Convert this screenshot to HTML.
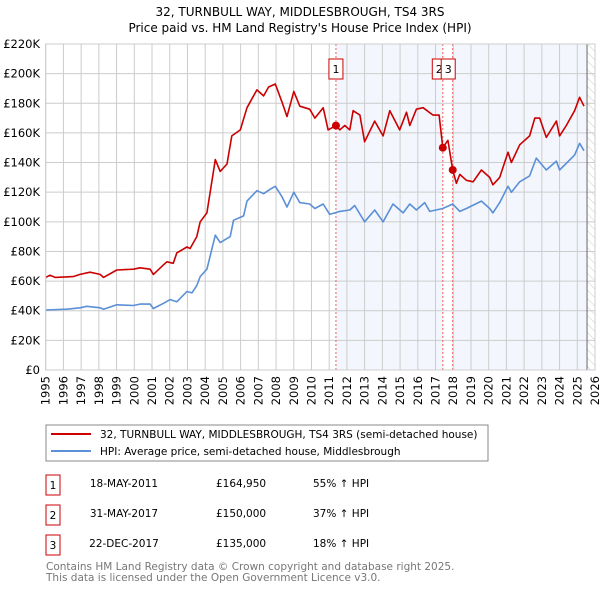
<!DOCTYPE html>
<html><head><meta charset="utf-8"><style>
body{margin:0;background:#fff;font-family:"DejaVu Sans","Liberation Sans",sans-serif;}
svg text{font-family:"DejaVu Sans","Liberation Sans",sans-serif;}
</style></head><body>
<svg id="chart" width="600" height="590" viewBox="0 0 600 590" xmlns="http://www.w3.org/2000/svg">
<text x="300" y="16" text-anchor="middle" font-size="12">32, TURNBULL WAY, MIDDLESBROUGH, TS4 3RS</text>
<text x="300" y="32" text-anchor="middle" font-size="12">Price paid vs. HM Land Registry's House Price Index (HPI)</text>
<g id="plot"></g>
<g>
<rect x="46" y="425" width="442" height="36" fill="#fff" stroke="#888"/>
<line x1="51" y1="434" x2="91" y2="434" stroke="#cc0000" stroke-width="2"/>
<text x="100" y="438" font-size="10.5">32, TURNBULL WAY, MIDDLESBROUGH, TS4 3RS (semi-detached house)</text>
<line x1="51" y1="451" x2="91" y2="451" stroke="#5b8fd6" stroke-width="2"/>
<text x="100" y="455" font-size="10.5">HPI: Average price, semi-detached house, Middlesbrough</text>
</g>
<g font-size="10.5">
<rect x="46" y="475" width="14" height="20" fill="#fff" stroke="#cc0000"/>
<text x="53" y="489" text-anchor="middle">1</text>
<text x="124" y="487" text-anchor="middle">18-MAY-2011</text>
<text x="216" y="487">£164,950</text>
<text x="313" y="487">55% ↑ HPI</text>
<rect x="46" y="505" width="14" height="20" fill="#fff" stroke="#cc0000"/>
<text x="53" y="519" text-anchor="middle">2</text>
<text x="124" y="517" text-anchor="middle">31-MAY-2017</text>
<text x="216" y="517">£150,000</text>
<text x="313" y="517">37% ↑ HPI</text>
<rect x="46" y="535" width="14" height="20" fill="#fff" stroke="#cc0000"/>
<text x="53" y="549" text-anchor="middle">3</text>
<text x="124" y="547" text-anchor="middle">22-DEC-2017</text>
<text x="216" y="547">£135,000</text>
<text x="313" y="547">18% ↑ HPI</text>
</g>
<text x="46" y="570" font-size="10.5" fill="#777">Contains HM Land Registry data © Crown copyright and database right 2025.</text>
<text x="46" y="581" font-size="10.5" fill="#777">This data is licensed under the Open Government Licence v3.0.</text>
</svg>
<script>
const yTicks=[0,20,40,60,80,100,120,140,160,180,200,220];
const yTickLabels=["£0","£20K","£40K","£60K","£80K","£100K","£120K","£140K","£160K","£180K","£200K","£220K"];
const xYears=[1995,1996,1997,1998,1999,2000,2001,2002,2003,2004,2005,2006,2007,2008,2009,2010,2011,2012,2013,2014,2015,2016,2017,2018,2019,2020,2021,2022,2023,2024,2025,2026];
const redDates=[1995,1995.24,1995.53,1996.56,1996.94,1997.5,1998.07,1998.26,1999.01,1999.95,2000.33,2000.89,2001.08,2001.65,2001.84,2002.2,2002.4,2002.97,2003.15,2003.53,2003.72,2004.1,2004.57,2004.85,2005.23,2005.5,2005.98,2006.36,2006.92,2007.3,2007.58,2007.96,2008.33,2008.62,2009,2009.34,2009.9,2010.19,2010.66,2010.94,2011.38,2011.6,2011.88,2012.16,2012.35,2012.73,2013.0,2013.57,2014.04,2014.42,2014.98,2015.36,2015.55,2015.92,2016.3,2016.86,2017.14,2017.2,2017.41,2017.7,2017.97,2018.18,2018.37,2018.74,2019.12,2019.59,2020.06,2020.24,2020.62,2021.09,2021.28,2021.75,2022.31,2022.6,2022.88,2023.25,2023.82,2024.0,2024.38,2024.85,2025.13,2025.38];
const redValues=[62.5,64,62.5,63,64.5,66,64.5,62.5,67.5,68,69,68,64.5,71,73,72,79,83,82,90,100,106,142,134,139,158,162,177,189,185,191,193,181,171,188,178,176,170,177,162,164.95,162,165,162,175,172,154,168,158,175,162,174,165,176,177,172,172,172,150,155,135,126,132,128,127,135,130,125,130,147,140,152,158,170,170,157,168,158,165,175,184,178];
const blueDates=[1995,1996.19,1996.94,1997.32,1998.07,1998.26,1999.01,1999.95,2000.33,2000.89,2001.08,2001.65,2002.02,2002.4,2002.97,2003.25,2003.53,2003.72,2004.1,2004.57,2004.85,2005.41,2005.6,2006.17,2006.36,2006.92,2007.3,2007.67,2007.96,2008.33,2008.62,2009,2009.34,2009.9,2010.19,2010.66,2011.03,2011.6,2012.16,2012.44,2013.0,2013.57,2014.04,2014.6,2015.17,2015.55,2015.92,2016.39,2016.67,2017.41,2017.97,2018.37,2018.74,2019.59,2020.06,2020.24,2020.62,2021.09,2021.28,2021.75,2022.31,2022.69,2023.25,2023.82,2024.0,2024.85,2025.13,2025.38];
const blueValues=[40.5,41,42,43,42,41,44,43.5,44.5,44.5,41.5,45,47.5,46,53,52,57,63,68,91,86,90,101,104,114,121,119,122,124,117,110,120,113,112,109,112,105,107,108,111,100,108,100,112,106,112,108,113,107,109,112,107,109,114,109,106,113,124,120,127,131,143,135,141,135,145,153,148];
const sales=[{n:"1",d:2011.38,v:164.95},{n:"2",d:2017.41,v:150},{n:"3",d:2017.97,v:135}];
const X0=45.7,X1=595,Y0=370,Y1=44;
const xs=d=>X0+(d-1995)/(2026-1995)*(X1-X0);
const ys=v=>Y0-v/220*(Y0-Y1);
const NS="http://www.w3.org/2000/svg";
const g=document.getElementById('plot');
function mk(t,a){const e=document.createElementNS(NS,t);for(const k in a)e.setAttribute(k,a[k]);g.appendChild(e);return e;}
let e;
e=mk('rect',{x:xs(sales[0].d),y:Y1,width:xs(sales[1].d)-xs(sales[0].d),height:Y0-Y1,fill:'#eef3fc',opacity:0.7});


e=mk('rect',{x:xs(sales[2].d),y:Y1,width:xs(2025.55)-xs(sales[2].d),height:Y0-Y1,fill:'#eef3fc',opacity:0.7});


const defs=document.createElementNS(NS,'defs');
defs.innerHTML='<pattern id="hatch" width="6" height="6" patternUnits="userSpaceOnUse" patternTransform="rotate(-45)"><line x1="0" y1="0" x2="0" y2="6" stroke="#ccc" stroke-width="1"/></pattern>';
g.appendChild(defs);
e=mk('rect',{x:xs(2025.55),y:Y1,width:X1-xs(2025.55),height:Y0-Y1,fill:'url(#hatch)'});


yTicks.forEach((t,i)=>{
 e=mk('line',{x1:X0,x2:X1,y1:ys(t),y2:ys(t),stroke:'#ccc','stroke-width':1});
 
 
 e=mk('text',{x:40,y:ys(t)+4,'text-anchor':'end','font-size':11.5});
 e.textContent=yTickLabels[i];
 
 
});
xYears.forEach(yr=>{
 e=mk('line',{x1:xs(yr),x2:xs(yr),y1:Y1,y2:Y0,stroke:'#ccc','stroke-width':1});
 
 
 e=mk('text',{x:0,y:0,'text-anchor':'end','font-size':11.5,transform:`translate(${xs(yr)+4},${Y0+6}) rotate(-90)`});
 e.textContent=yr;
 
 
});
e=mk('line',{x1:xs(2025.55),x2:xs(2025.55),y1:Y1,y2:Y0,stroke:'#666','stroke-width':1});


sales.forEach(s=>{
 e=mk('line',{x1:xs(s.d),x2:xs(s.d),y1:Y1,y2:Y0,stroke:'#f06060','stroke-width':1,'stroke-dasharray':'2,2'});
 
 
});
function pts(d,v){return d.map((x,i)=>xs(x).toFixed(1)+','+ys(v[i]).toFixed(1)).join(' ');}
e=mk('polyline',{points:pts(blueDates,blueValues),fill:'none',stroke:'#5b8fd6','stroke-width':1.6,'stroke-linejoin':'round'});


e=mk('polyline',{points:pts(redDates,redValues),fill:'none',stroke:'#cc0000','stroke-width':1.6,'stroke-linejoin':'round'});


sales.forEach((s,i)=>{
 e=mk('circle',{cx:xs(s.d),cy:ys(s.v),r:4,fill:'#cc0000'});
 
 
 const bx=i==0?xs(s.d)-7:(i==1?xs(s.d)-10.5:xs(s.d)-11.5);
 e=mk('rect',{x:bx,y:59,width:14,height:20,fill:'#fff',stroke:'#cc0000'});
 
 
 e=mk('text',{x:bx+7,y:73,'text-anchor':'middle','font-size':11});
 e.textContent=s.n;
 
 
});
e=mk('rect',{x:X0,y:Y1,width:X1-X0,height:Y0-Y1,fill:'none',stroke:'#ccc'});


</script>
</body></html>
